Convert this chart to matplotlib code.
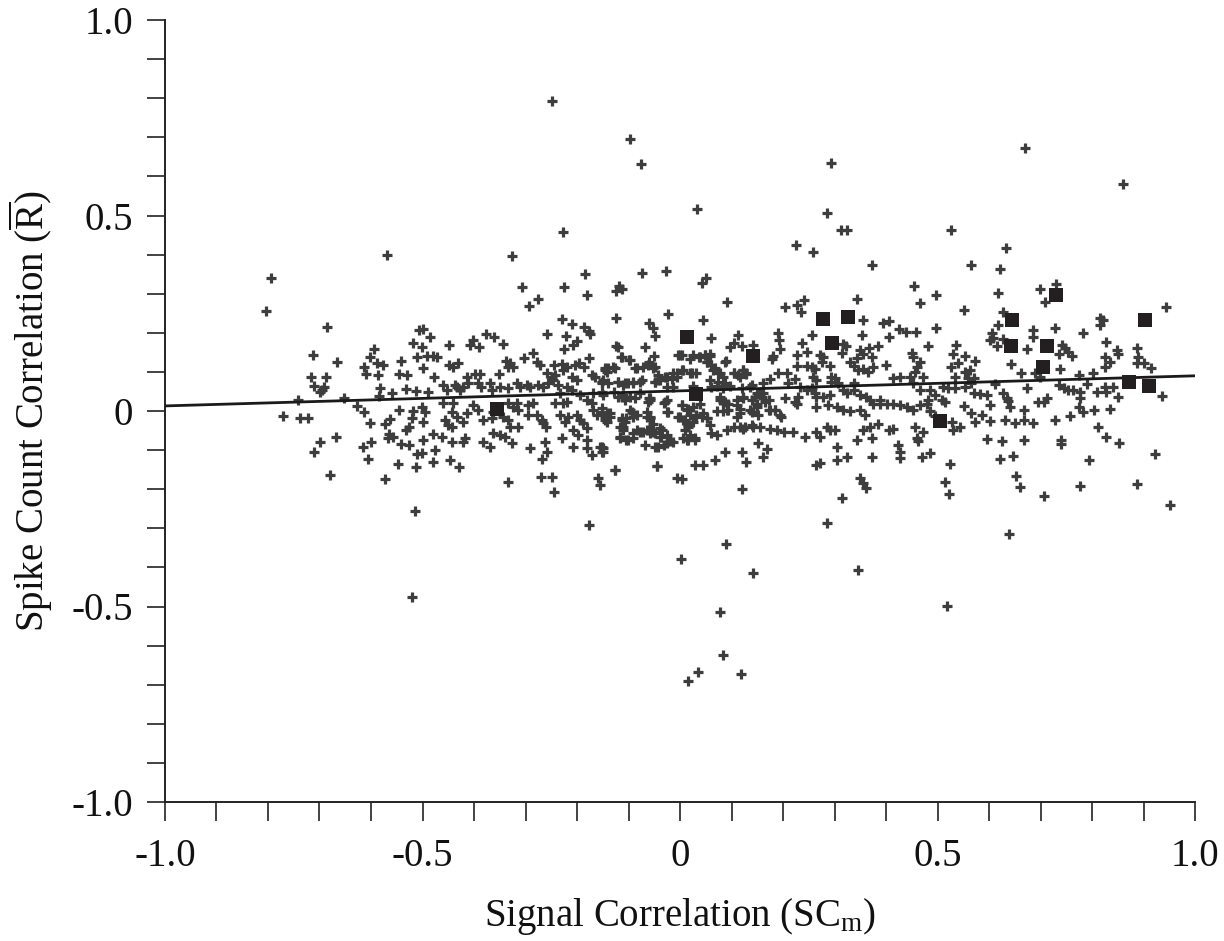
import matplotlib
matplotlib.use("Agg")
import matplotlib.pyplot as plt
from matplotlib.ticker import MultipleLocator, FixedLocator, FixedFormatter

# ---- data ----
pairs_x = [
 -0.249,-0.097,-0.076,0.293,0.670,0.860,0.033,0.285,-0.227,0.313,0.324,0.526,
 -0.515,-0.177,0.285,0.639,0.951,0.089,0.002,0.142,0.346,-0.520,0.518,0.078,0.084,0.035,0.118,0.016,
 -0.569,-0.794,-0.804,-0.685,-0.713,-0.666,-0.716,-0.687,-0.711,-0.691,-0.699,-0.695,-0.742,-0.652,
 -0.771,-0.738,-0.722,-0.699,-0.668,-0.711,-0.680,-0.594,-0.602,-0.614,-0.610,-0.588,-0.577,-0.586,
 -0.542,-0.546,-0.530,-0.583,-0.585,-0.559,-0.532,-0.513,-0.518,-0.511,-0.507,-0.627,-0.614,-0.602,
 -0.546,-0.573,-0.563,-0.518,-0.520,-0.526,-0.532,-0.565,-0.557,-0.567,-0.600,-0.616,-0.606,-0.542,
 -0.526,-0.511,-0.548,-0.513,-0.573,
 -0.326,-0.184,-0.074,-0.027,-0.307,-0.225,-0.181,-0.276,-0.293,-0.118,-0.113,-0.124,-0.023,-0.124,
 -0.229,-0.210,-0.060,-0.052,-0.049,-0.186,-0.177,-0.175,-0.258,-0.221,-0.200,-0.208,-0.225,-0.124,
 -0.120,-0.068,-0.115,-0.099,-0.050,-0.083,-0.062,-0.049,-0.499,-0.485,-0.501,-0.449,-0.402,-0.408,
 -0.390,-0.377,-0.361,-0.344,-0.491,-0.480,-0.472,-0.499,-0.449,-0.441,-0.431,-0.478,-0.414,-0.398,
 -0.388,-0.351,-0.338,-0.330,-0.324,-0.334,-0.303,-0.285,-0.278,-0.272,-0.245,-0.229,-0.227,-0.219,
 -0.204,-0.196,-0.186,-0.177,-0.258,-0.249,-0.243,-0.210,-0.200,-0.237,-0.219,-0.171,-0.165,-0.146,
 -0.140,-0.130,-0.151,-0.150,-0.120,-0.111,-0.101,-0.091,-0.078,-0.049,-0.039,-0.025,-0.014,-0.006,
 -0.004,-0.025,-0.014,-0.460,-0.437,-0.427,-0.433,-0.421,-0.412,-0.392,-0.386,-0.369,-0.365,-0.350,
 -0.489,-0.452,-0.334,-0.317,-0.311,-0.297,-0.291,-0.276,-0.266,-0.256,-0.247,-0.460,-0.441,-0.443,
 -0.501,-0.495,-0.499,-0.414,-0.402,-0.392,-0.383,-0.365,-0.363,-0.456,-0.450,-0.443,-0.433,-0.421,
 -0.334,-0.324,-0.315,-0.317,-0.344,-0.334,-0.330,-0.315,-0.295,-0.285,-0.295,-0.278,-0.268,-0.266,
 -0.260,-0.480,-0.462,-0.499,-0.501,-0.443,-0.421,-0.417,-0.476,-0.480,-0.447,-0.429,-0.383,-0.369,
 -0.363,-0.350,-0.340,-0.326,-0.291,-0.262,-0.258,-0.268,-0.334,-0.270,-0.249,-0.245,-0.229,-0.208,
 -0.198,-0.208,-0.181,-0.181,-0.171,-0.155,-0.151,-0.150,-0.159,-0.155,-0.126,-0.045,-0.006,-0.227,
 -0.219,-0.233,-0.223,-0.217,-0.200,-0.194,-0.188,-0.181,-0.181,-0.171,-0.169,-0.161,-0.151,-0.146,
 -0.142,-0.136,-0.113,-0.107,-0.117,-0.111,-0.097,-0.091,-0.083,-0.117,-0.101,-0.091,-0.078,-0.064,
 -0.058,-0.052,-0.039,-0.035,-0.043,-0.025,-0.014,-0.064,-0.058,-0.029,-0.025,-0.004,-0.120,-0.111,
 -0.097,-0.078,-0.058,-0.062,-0.243,-0.233,-0.210,-0.194,-0.169,-0.151,
 0.225,0.258,0.373,0.042,0.050,0.092,0.045,0.203,0.228,0.241,0.234,0.344,0.455,0.498,0.466,0.355,
 0.395,0.405,0.426,0.439,0.458,0.498,0.353,0.406,0.060,0.113,0.104,0.120,0.097,0.141,0.190,0.192,
 0.194,0.237,0.256,0.247,0.227,0.317,0.322,0.315,0.367,0.385,0.350,0.355,0.372,0.343,0.481,0.450,
 0.453,0.466,0.461,0.456,0.400,0.003,0.026,0.039,0.049,0.058,0.023,0.006,0.052,0.061,0.065,0.078,
 0.084,0.089,0.104,0.123,0.129,0.117,0.180,0.178,0.162,0.175,0.191,0.207,0.223,0.210,0.228,0.246,
 0.256,0.262,0.259,0.265,0.272,0.278,0.275,0.291,0.294,0.301,0.307,0.294,0.330,0.337,0.346,0.356,
 0.366,0.337,0.375,0.414,0.427,0.447,0.453,0.472,0.026,0.061,0.071,0.084,0.097,0.120,0.136,0.155,
 0.233,0.246,0.256,0.262,0.265,0.278,0.291,0.317,0.324,0.337,0.350,0.362,0.369,0.388,0.466,0.485,
 0.495,0.482,0.003,0.013,0.019,0.006,0.016,0.026,0.039,0.045,0.052,0.032,0.078,0.084,0.094,0.110,
 0.123,0.139,0.146,0.149,0.155,0.162,0.172,0.071,0.084,0.094,0.117,0.136,0.152,0.172,0.184,0.194,
 0.204,0.223,0.227,0.230,0.265,0.288,0.304,0.317,0.330,0.350,0.359,0.375,0.388,0.401,0.414,0.427,
 0.440,0.453,0.466,0.479,0.485,0.495,0.058,0.061,0.071,0.091,0.117,0.123,0.139,0.155,0.175,0.188,
 0.201,0.220,0.006,0.016,0.029,0.243,0.265,0.272,0.285,0.291,0.301,0.343,0.356,0.369,0.385,0.372,
 0.405,0.414,0.424,0.427,0.456,0.472,0.460,0.463,0.087,0.120,0.129,0.152,0.168,0.162,0.029,0.045,
 0.068,0.304,0.324,0.304,0.265,0.272,0.372,0.427,0.469,0.485,0.350,0.356,0.362,0.314,0.120,0.003,
 0.633,0.566,0.621,0.618,0.699,0.730,0.709,0.551,0.628,0.618,0.728,0.816,0.822,0.815,0.944,0.783,
 0.686,0.685,0.605,0.608,0.602,0.615,0.628,0.536,0.531,0.553,0.573,0.673,0.741,0.748,0.754,0.761,
 0.735,0.827,0.848,0.851,0.825,0.835,0.825,0.887,0.890,0.887,0.901,0.914,0.527,0.540,0.534,0.553,
 0.563,0.570,0.560,0.566,0.553,0.511,0.521,0.534,0.508,0.515,0.642,0.663,0.674,0.689,0.699,0.738,
 0.774,0.801,0.790,0.570,0.583,0.596,0.612,0.628,0.634,0.641,0.602,0.637,0.735,0.745,0.754,0.764,
 0.777,0.809,0.825,0.828,0.841,0.851,0.696,0.706,0.712,0.777,0.774,0.783,0.803,0.835,0.935,0.551,
 0.566,0.586,0.573,0.602,0.631,0.650,0.667,0.667,0.685,0.528,0.531,0.544,0.728,0.757,0.812,0.828,
 0.853,0.596,0.625,0.667,0.739,0.739,0.621,0.646,0.525,0.794,0.922,0.653,0.660,0.514,0.523,0.777,
 0.887,0.706,
 # extra points from the dense centre band
 -0.146,-0.142,-0.126,-0.113,-0.097,-0.087,-0.071,-0.061,-0.052,-0.042,-0.152,-0.139,-0.120,-0.107,
 -0.091,-0.074,-0.048,-0.042,-0.029,-0.016,-0.006,0.003,-0.149,-0.129,-0.113,-0.107,-0.087,-0.061,
 -0.058,-0.032,-0.026,-0.023,-0.152,-0.142,-0.136,-0.146,-0.113,-0.104,-0.094,-0.091,-0.110,-0.065,
 -0.058,-0.052,-0.084,-0.071,-0.058,-0.048,-0.039,-0.036,-0.026,-0.019,-0.117,-0.104,-0.091,-0.068,
 -0.048,-0.032,-0.152,-0.149,-0.126,-0.044,0.000,0.010,0.016,0.010,0.019,0.029,0.013,0.003,0.016,
 0.026,0.032,0.042,0.052,0.000,0.019,0.036,0.049,0.058,0.052,0.061,0.068,0.074,0.087,0.019,0.032,
 0.058,0.074,0.087,0.104,0.113,0.123,0.129,0.139,0.078,0.087,0.091,0.110,0.117,0.123,0.110,0.104,
 0.126,0.142,0.149,0.159,0.165,0.149,0.139,0.175,0.184,0.197,
]
pairs_y = [
 0.793,0.696,0.632,0.634,0.673,0.581,0.517,0.506,0.458,0.463,0.463,0.463,
 -0.257,-0.292,-0.286,-0.315,-0.240,-0.340,-0.378,-0.415,-0.406,-0.476,-0.499,-0.514,-0.624,-0.668,-0.673,-0.691,
 0.399,0.340,0.256,0.215,0.143,0.125,0.087,0.087,0.064,0.061,0.049,0.054,0.028,0.033,
 -0.013,-0.018,-0.018,-0.080,-0.066,-0.104,-0.163,0.159,0.138,0.113,0.095,0.123,0.118,0.092,
 0.128,0.095,0.092,0.059,0.038,0.046,0.056,0.051,0.174,0.138,0.207,0.013,-0.003,-0.031,
 0.003,-0.033,-0.020,0.000,-0.018,-0.041,-0.049,-0.059,-0.066,-0.069,-0.079,-0.092,-0.123,-0.084,
 -0.087,-0.110,-0.136,-0.143,-0.174,
 0.396,0.350,0.353,0.358,0.317,0.317,0.297,0.286,0.269,0.320,0.312,0.307,0.248,0.238,
 0.235,0.222,0.225,0.212,0.192,0.215,0.205,0.197,0.197,0.192,0.179,0.169,0.159,0.166,
 0.164,0.164,0.138,0.130,0.141,0.110,0.118,0.113,0.210,0.189,0.164,0.169,0.182,0.169,
 0.164,0.197,0.189,0.171,0.141,0.141,0.138,0.110,0.118,0.113,0.123,0.087,0.087,0.095,
 0.095,0.095,0.128,0.123,0.113,0.113,0.136,0.148,0.125,0.118,0.118,0.120,0.105,0.113,
 0.118,0.123,0.113,0.136,0.097,0.087,0.092,0.087,0.079,0.066,0.061,0.092,0.087,0.105,
 0.110,0.113,0.072,0.079,0.074,0.066,0.072,0.072,0.074,0.074,0.079,0.087,0.097,0.087,
 0.143,0.061,0.061,0.066,0.066,0.054,0.061,0.061,0.072,0.072,0.061,0.072,0.054,0.061,
 0.049,0.054,0.059,0.072,0.061,0.066,0.061,0.066,0.061,0.072,0.079,0.020,0.020,-0.003,
 0.010,-0.003,-0.028,-0.005,0.015,0.003,-0.023,-0.018,-0.003,-0.023,-0.036,-0.041,-0.015,-0.028,
 0.020,0.010,0.003,0.020,-0.015,-0.023,-0.041,-0.041,0.015,0.020,-0.010,-0.010,-0.023,-0.031,
 -0.041,-0.059,-0.066,-0.074,-0.107,-0.079,-0.079,-0.069,-0.100,-0.130,-0.125,-0.143,-0.079,-0.092,
 -0.056,-0.061,-0.066,-0.082,-0.095,-0.079,-0.105,-0.123,-0.182,-0.169,-0.169,-0.207,-0.069,-0.049,
 -0.061,-0.092,-0.074,-0.095,-0.113,-0.092,-0.105,-0.095,-0.171,-0.189,-0.151,-0.141,-0.171,0.020,
 0.023,-0.010,-0.028,-0.015,-0.010,-0.023,-0.031,-0.043,0.028,0.020,0.003,-0.010,-0.003,-0.015,
 -0.028,-0.005,-0.018,-0.028,-0.041,-0.049,0.003,-0.005,-0.010,-0.069,-0.074,-0.056,-0.054,-0.049,
 -0.056,-0.054,-0.066,-0.049,-0.092,-0.082,-0.079,-0.003,-0.015,0.023,-0.003,-0.015,0.036,0.041,
 0.036,0.046,0.033,0.023,0.020,0.046,0.054,0.041,0.046,0.049,
 0.424,0.406,0.374,0.327,0.339,0.278,0.233,0.266,0.271,0.284,0.254,0.286,0.320,0.297,0.275,0.233,
 0.224,0.231,0.209,0.203,0.203,0.211,0.194,0.188,0.187,0.194,0.174,0.165,0.163,0.168,0.200,0.182,
 0.158,0.175,0.194,0.152,0.143,0.172,0.167,0.149,0.161,0.166,0.156,0.146,0.137,0.135,0.165,0.149,
 0.139,0.126,0.113,0.100,0.118,0.143,0.143,0.139,0.143,0.141,0.097,0.105,0.126,0.117,0.105,0.097,
 0.088,0.128,0.097,0.105,0.095,0.088,0.141,0.132,0.071,0.083,0.096,0.098,0.083,0.071,0.116,0.116,
 0.112,0.108,0.088,0.080,0.143,0.139,0.126,0.116,0.088,0.084,0.071,0.075,0.125,0.116,0.105,0.108,
 0.100,0.071,0.112,0.084,0.088,0.088,0.071,0.088,0.065,0.062,0.065,0.058,0.064,0.058,0.062,0.045,
 0.062,0.054,0.058,0.045,0.036,0.036,0.041,0.054,0.045,0.054,0.041,0.036,0.028,0.028,0.054,0.054,
 0.041,0.028,0.015,0.003,-0.010,-0.023,-0.040,-0.027,0.019,-0.006,-0.019,-0.014,0.036,0.023,0.019,0.015,
 0.032,0.028,0.036,0.019,0.041,0.045,0.028,-0.001,-0.001,0.003,-0.006,0.003,-0.010,0.003,0.003,-0.010,
 0.032,0.023,0.019,0.036,0.011,0.015,0.011,0.003,-0.001,0.003,-0.010,0.019,0.019,0.019,0.019,0.015,
 0.011,0.003,0.015,0.019,-0.001,-0.014,-0.036,-0.057,-0.062,-0.049,-0.040,-0.045,-0.036,-0.040,-0.045,-0.049,
 -0.053,-0.053,-0.070,-0.074,-0.070,-0.066,-0.053,-0.066,-0.040,-0.049,-0.049,-0.074,-0.049,-0.040,-0.032,-0.070,
 -0.049,-0.045,-0.087,-0.104,-0.040,-0.053,-0.070,-0.078,-0.104,-0.104,-0.130,-0.083,-0.096,-0.117,-0.138,-0.138,
 -0.125,-0.091,-0.117,-0.126,-0.138,-0.134,-0.117,-0.121,-0.117,-0.108,-0.172,-0.185,-0.198,-0.223,-0.199,-0.174,
 0.416,0.373,0.363,0.301,0.313,0.326,0.280,0.258,0.254,0.220,0.211,0.237,0.233,0.220,0.265,0.200,
 0.207,0.190,0.199,0.186,0.182,0.165,0.183,0.170,0.147,0.141,0.128,0.158,0.168,0.160,0.151,0.140,
 0.146,0.177,0.156,0.147,0.139,0.126,0.113,0.160,0.139,0.122,0.124,0.109,0.113,0.122,0.088,0.101,
 0.105,0.084,0.084,0.071,0.062,0.062,0.058,0.058,0.028,0.024,0.119,0.098,0.058,0.096,0.088,0.107,
 0.092,0.098,0.069,0.045,0.043,0.040,0.069,0.047,0.032,0.011,0.015,0.026,0.066,0.058,0.054,0.054,
 0.049,0.049,0.062,0.049,0.062,0.036,0.022,0.024,0.032,0.032,0.011,-0.002,0.002,0.006,0.039,0.013,
 -0.006,-0.010,-0.027,-0.025,-0.023,-0.030,0.002,-0.023,-0.030,-0.027,-0.049,-0.042,-0.023,-0.013,-0.042,-0.067,
 -0.081,-0.072,-0.078,-0.073,-0.073,-0.084,-0.124,-0.115,-0.135,-0.125,-0.110,-0.166,-0.194,-0.182,-0.211,-0.192,
 -0.187,-0.217,
 # extra points from the dense centre band
 0.109,0.100,0.109,0.138,0.130,0.109,0.113,0.126,0.109,0.092,0.075,0.071,0.075,0.071,
 0.075,0.079,0.075,0.079,0.088,0.083,0.096,0.105,0.041,0.049,0.037,0.028,0.032,0.032,
 0.028,0.020,0.028,-0.002,0.007,-0.006,-0.015,-0.023,-0.023,-0.019,-0.002,-0.015,-0.040,-0.015,
 -0.019,-0.032,-0.049,-0.053,-0.049,-0.057,-0.044,-0.066,-0.062,-0.078,-0.066,-0.075,-0.070,-0.087,
 -0.091,-0.087,-0.091,-0.104,-0.151,-0.141,-0.015,-0.023,-0.036,-0.049,-0.061,-0.074,-0.074,0.015,0.006,
 0.011,-0.010,-0.015,-0.019,0.143,0.134,0.138,0.143,0.147,0.126,0.117,0.109,0.096,0.126,0.096,0.096,
 0.079,0.075,0.071,0.096,0.092,0.105,0.096,0.066,0.028,0.024,0.002,0.028,0.006,0.037,-0.015,-0.040,
 -0.040,-0.040,0.045,0.037,0.024,0.011,-0.002,0.002,0.002,-0.015,
]

# highlighted pairs (filled squares)
sq_x = [-0.355, 0.013, 0.032, 0.142, 0.277, 0.296, 0.326, 0.505, 0.644, 0.642, 0.704, 0.713, 0.731, 0.872, 0.902, 0.911]
sq_y = [0.005, 0.188, 0.043, 0.141, 0.235, 0.173, 0.240, -0.025, 0.233, 0.166, 0.113, 0.167, 0.297, 0.073, 0.233, 0.063]

# regression line end points
fit_x = [-1.0, 1.0]
fit_y = [0.013, 0.090]

xtick_vals = [-1.0, -0.5, 0.0, 0.5, 1.0]
xtick_labels = ['-1.0', '-0.5', '0', '0.5', '1.0']
ytick_vals = [-1.0, -0.5, 0.0, 0.5, 1.0]
ytick_labels = ['-1.0', '-0.5', '0', '0.5', '1.0']

x_label = r'Signal Correlation (SC$_{\mathrm{m}}$)'
y_label = r'Spike Count Correlation ($\overline{\mathrm{R}}$)'

# ---- drawing ----
plt.rcParams['font.family'] = ['Liberation Serif', 'DejaVu Serif']
plt.rcParams['mathtext.fontset'] = 'custom'
plt.rcParams['mathtext.rm'] = 'Liberation Serif'
plt.rcParams['mathtext.it'] = 'Liberation Serif:italic'

n = min(len(pairs_x), len(pairs_y))
fig = plt.figure(figsize=(12.24, 9.41), dpi=100)
ax = fig.add_axes([165/1224, 139/941, 1030/1224, 782/941])

ax.scatter(pairs_x[:n], pairs_y[:n], marker='+', s=50, linewidths=2.3, color='#3d3d3d', zorder=2)
ax.plot(fit_x, fit_y, color='#1a1a1a', lw=2.0, zorder=3)
ax.scatter(sq_x, sq_y, marker='s', s=115, color='#231f20', zorder=4, linewidths=0)

ax.set_xlim(-1, 1)
ax.set_ylim(-1, 1)
for s in ['top', 'right']:
    ax.spines[s].set_visible(False)
for s in ['left', 'bottom']:
    ax.spines[s].set_linewidth(1.4)
    ax.spines[s].set_color('#222222')

ax.xaxis.set_major_locator(FixedLocator(xtick_vals))
ax.xaxis.set_major_formatter(FixedFormatter(xtick_labels))
ax.yaxis.set_major_locator(FixedLocator(ytick_vals))
ax.yaxis.set_major_formatter(FixedFormatter(ytick_labels))
ax.xaxis.set_minor_locator(MultipleLocator(0.1))
ax.yaxis.set_minor_locator(MultipleLocator(0.1))
ax.tick_params(axis='x', which='both', direction='out', length=14, width=1.2, color='#222222', pad=12)
ax.tick_params(axis='y', which='both', direction='out', length=13, width=1.2, color='#222222', pad=10)
ax.tick_params(axis='both', which='major', labelsize=28, labelcolor='#111111')

ax.set_xlabel(x_label, fontsize=28, labelpad=15, color='#111111')
ax.set_ylabel(y_label, fontsize=28, labelpad=12, color='#111111')

fig.savefig('out.png', dpi=100, facecolor='white')
